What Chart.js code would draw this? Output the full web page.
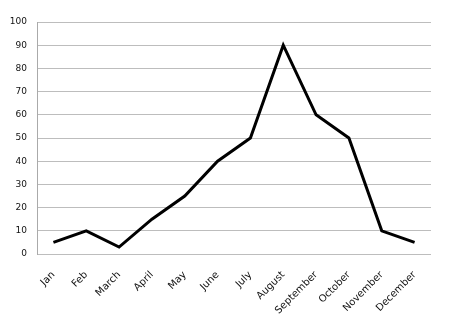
<!DOCTYPE html>
<html>
<head>
<meta charset="utf-8">
<script src="https://cdn.jsdelivr.net/npm/chart.js@4"></script>
<style>
  html, body { margin: 0; padding: 0; background: #fff; }
  #wrap { width: 450px; height: 324px; }
</style>
</head>
<body>
<div id="wrap"><canvas id="lineChart" width="450" height="324"></canvas></div>
<script>
// Monthly values
const months = ['Jan', 'Feb', 'March', 'April', 'May', 'June', 'July', 'August', 'September', 'October', 'November', 'December'];
const values = [5, 10, 3, 15, 25, 40, 50, 90, 60, 50, 10, 5];
const yTicks = [0, 10, 20, 30, 40, 50, 60, 70, 80, 90, 100];

const ctx = document.getElementById('lineChart').getContext('2d');

new Chart(ctx, {
    type: 'line',
    data: {
        labels: months,
        datasets: [{
            data: values,
            borderColor: '#000',
            borderWidth: 3,
            pointRadius: 0,
            tension: 0,
            fill: false
        }]
    },
    options: {
        responsive: false,
        animation: false,
        layout: { padding: { top: 22, right: 19, left: 0, bottom: 0 } },
        plugins: { legend: { display: false }, tooltip: { enabled: false } },
        scales: {
            x: {
                offset: true,
                grid: { display: false, drawTicks: false },
                border: { display: false },
                ticks: {
                    color: '#111',
                    font: { family: 'DejaVu Sans', size: 10 },
                    maxRotation: 45,
                    minRotation: 45,
                    autoSkip: false,
                    padding: 15
                },
                afterFit: (scale) => { scale.height = 70; }
            },
            y: {
                min: 0,
                max: 100,
                afterBuildTicks: (scale) => { scale.ticks = yTicks.map(v => ({ value: v })); },
                grid: { color: '#bdbdbd', lineWidth: 1, drawTicks: false },
                border: { display: true, color: '#aaa', width: 1 },
                ticks: {
                    color: '#111',
                    font: { family: 'DejaVu Sans', size: 9 },
                    padding: 10
                },
                afterFit: (scale) => { scale.width = 37; }
            }
        }
    }
});
</script>
</body>
</html>
